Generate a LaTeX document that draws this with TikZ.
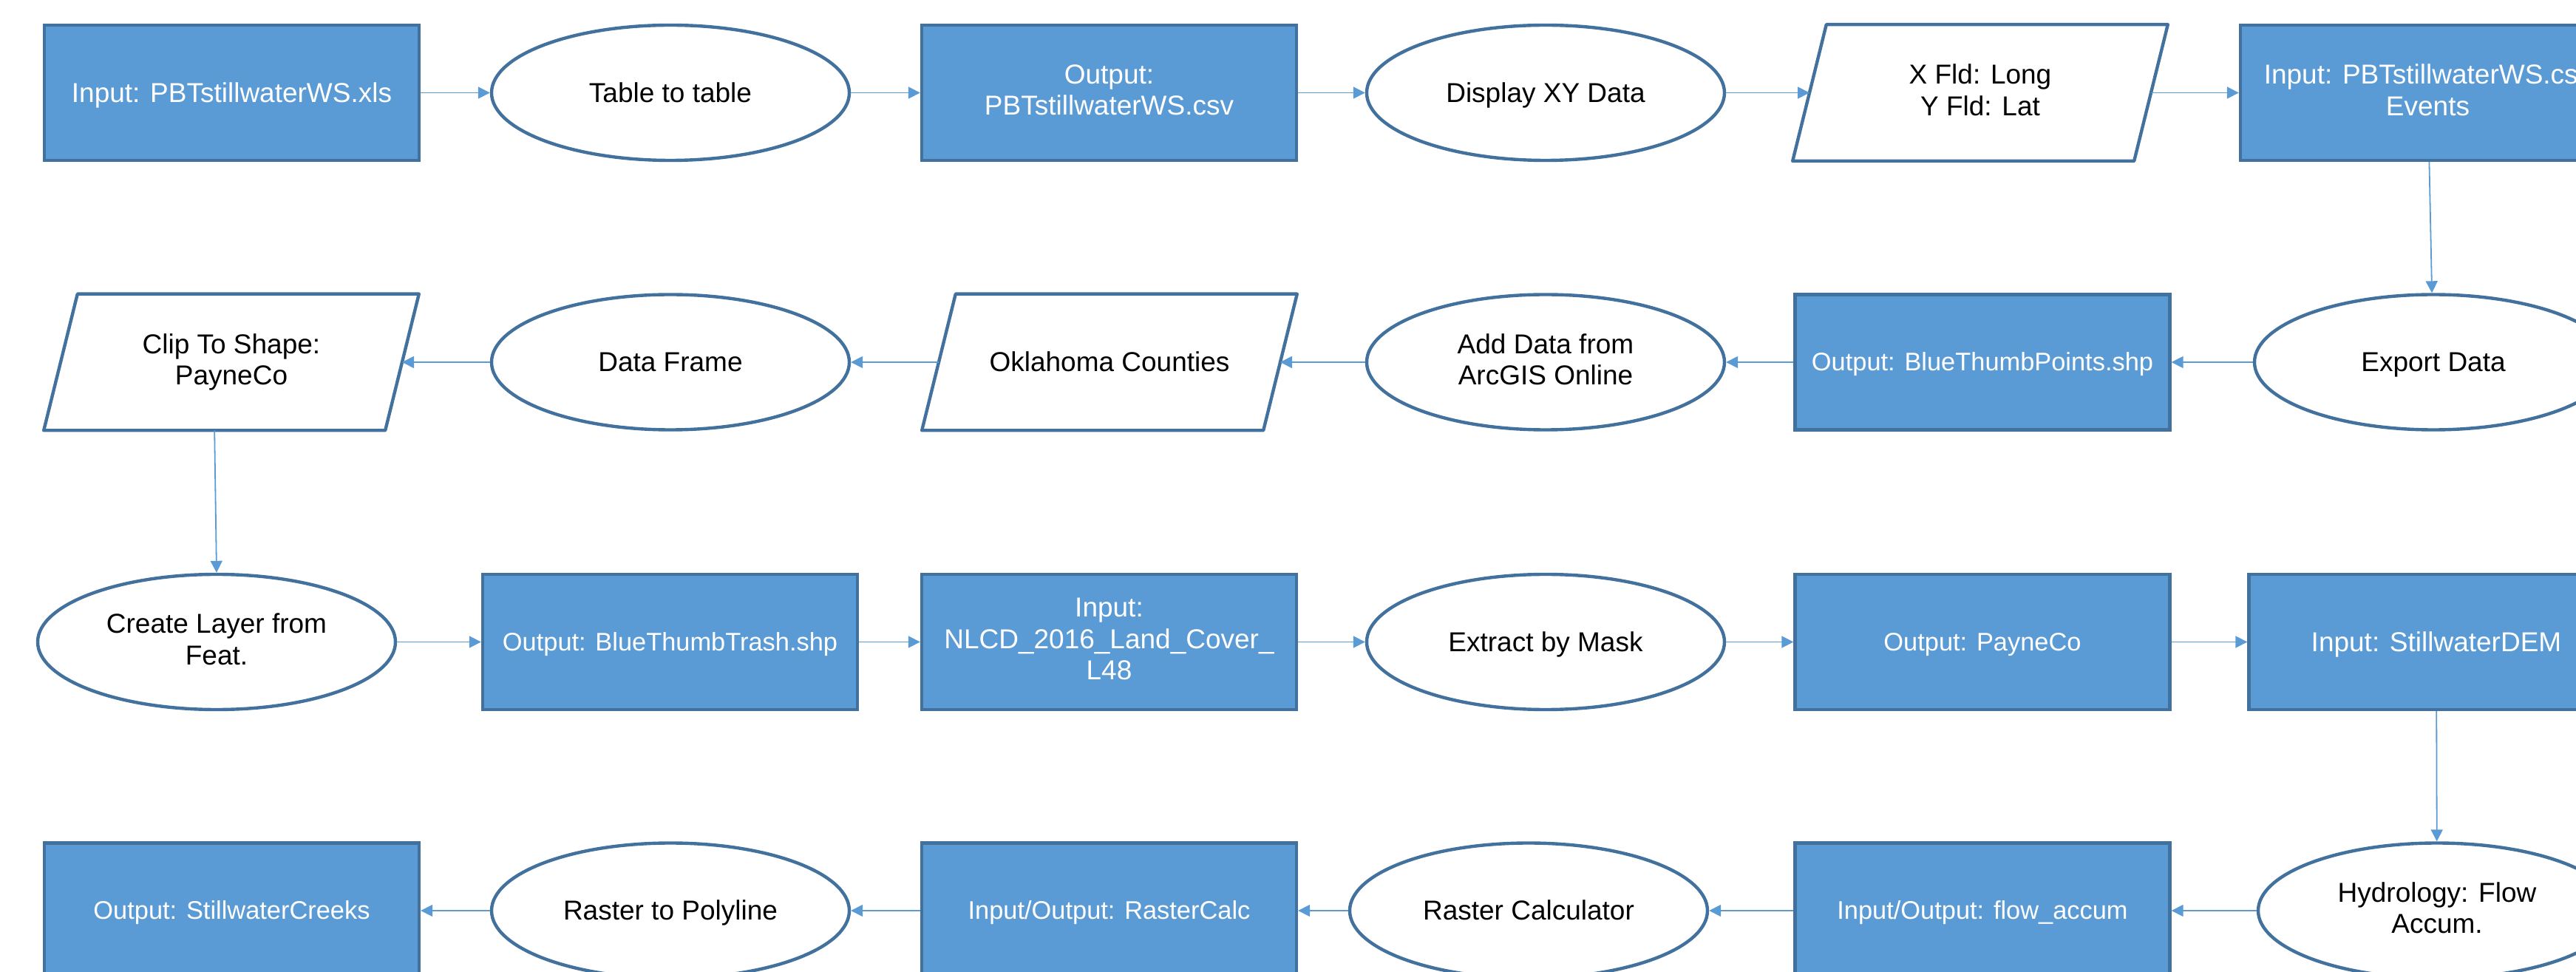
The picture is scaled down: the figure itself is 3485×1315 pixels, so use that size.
\documentclass[tikz,border=0pt]{standalone}
\usepackage{fontspec}
\setmainfont{Liberation Sans}
\usetikzlibrary{shapes.geometric,arrows.meta}
\definecolor{boxfill}{HTML}{5B9BD5}
\definecolor{edgeblue}{HTML}{41719C}
\definecolor{linkblue}{HTML}{5B9BD5}
\newcommand{\mainsize}{\fontsize{9.25}{10.6}\selectfont}
\newcommand{\smallsize}{\fontsize{8.6}{9.9}\selectfont}
% line box of the font: ascender and descender
\newcommand{\linestrut}{\rule[-0.212em]{0pt}{1.117em}}
% outline of a parallelogram around a text node; the top edge leans right
\newcommand{\slantframe}[1]{%
  \draw[edgeblue, line width=1.1pt, line join=round]
    ([xshift=5.7pt]#1.north west) -- ([xshift=5.7pt]#1.north east)
    -- ([xshift=-5.7pt]#1.south east) -- ([xshift=-5.7pt]#1.south west) -- cycle;}
\tikzset{
  labelled/.style={execute at begin node=\linestrut, execute at end node=\linestrut},
  databox/.style={labelled, rectangle, draw=edgeblue, fill=boxfill, line width=1.1pt,
    minimum width=126.75pt, minimum height=45.75pt, inner sep=2pt,
    text=white, align=center, font=\mainsize},
  smalltext/.style={font=\smallsize},
  tool/.style={labelled, ellipse, draw=edgeblue, fill=white, line width=1.1pt,
    minimum width=121pt, minimum height=45.75pt, inner sep=0pt,
    align=center, font=\mainsize},
  param/.style={labelled, rectangle, minimum width=115.1pt, minimum height=45.75pt,
    inner sep=0pt, align=center, font=\mainsize},
  link/.style={draw=linkblue, line width=0.45pt,
    -{Triangle[length=4pt,width=4pt]}},
}
\begin{document}
\begin{tikzpicture}[x=0.25pt, y=-0.25pt]
\useasboundingbox (0,0) rectangle (3485,1315);
\clip (0,0) rectangle (3485,1315);

% row 1
\node[databox] (inxls) at (313.5,125.5) {Input: PBTstillwaterWS.xls};
\node[tool] (t2t) at (907,125.5) {Table to table};
\node[databox] (outcsv) at (1500.5,125.5) {Output:\\PBTstillwaterWS.csv};
\node[tool] (dxy) at (2091,125.5) {Display XY Data};
\node[param] (xyf) at (2679,125.5) {X Fld: Long\\Y Fld: Lat};
\slantframe{xyf}
\node[databox] (events) at (3284.5,125.5) {Input: PBTstillwaterWS.csv\\Events};

% row 2
\node[param] (clip) at (313,490) {Clip To Shape:\\PayneCo};
\slantframe{clip}
\coordinate (clipbase) at ([xshift=-5.7pt]clip.south);
\node[tool] (frame) at (907,490) {Data Frame};
\node[param] (okc) at (1501,490) {Oklahoma Counties};
\slantframe{okc}
\node[tool] (agol) at (2091,490) {Add Data from\\ArcGIS Online};
\node[databox, smalltext] (pts) at (2682,490) {Output: BlueThumbPoints.shp};
\node[tool] (export) at (3292,490) {Export Data};

% row 3
\node[tool] (mklayer) at (293,868.5) {Create Layer from\\Feat.};
\node[databox, smalltext] (trash) at (906.5,868.5) {Output: BlueThumbTrash.shp};
\node[databox] (nlcd) at (1500.5,868.5) {Input:\\NLCD\_2016\_Land\_Cover\_\\L48};
\node[tool] (mask) at (2091,868.5) {Extract by Mask};
\node[databox, smalltext] (payne) at (2682,868.5) {Output: PayneCo};
\node[databox] (dem) at (3296,868.5) {Input: StillwaterDEM};

% row 4
\node[databox, smalltext] (creeks) at (313.5,1232) {Output: StillwaterCreeks};
\node[tool] (r2p) at (907,1232) {Raster to Polyline};
\node[databox, smalltext] (rcalc) at (1500.5,1232) {Input/Output: RasterCalc};
\node[tool] (calc) at (2068,1232) {Raster Calculator};
\node[databox, smalltext] (facc) at (2682,1232) {Input/Output: flow\_accum};
\node[tool] (hydro) at (3297,1232) {Hydrology: Flow\\Accum.};

% connectors
\draw[link] (inxls) -- (t2t);
\draw[link] (t2t) -- (outcsv);
\draw[link] (outcsv) -- (dxy);
\draw[link] (dxy) -- (xyf);
\draw[link] (xyf) -- (events);
\draw[link] (events) -- (export);

\draw[link] (export) -- (pts);
\draw[link] (pts) -- (agol);
\draw[link] (agol) -- (okc);
\draw[link] (okc) -- (frame);
\draw[link] (frame) -- (clip);
\draw[link] (clipbase) -- (mklayer.north);

\draw[link] (mklayer) -- (trash);
\draw[link] (trash) -- (nlcd);
\draw[link] (nlcd) -- (mask);
\draw[link] (mask) -- (payne);
\draw[link] (payne) -- (dem);
\draw[link] (dem) -- (hydro);

\draw[link] (hydro) -- (facc);
\draw[link] (facc) -- (calc);
\draw[link] (calc) -- (rcalc);
\draw[link] (rcalc) -- (r2p);
\draw[link] (r2p) -- (creeks);
\end{tikzpicture}
\end{document}
